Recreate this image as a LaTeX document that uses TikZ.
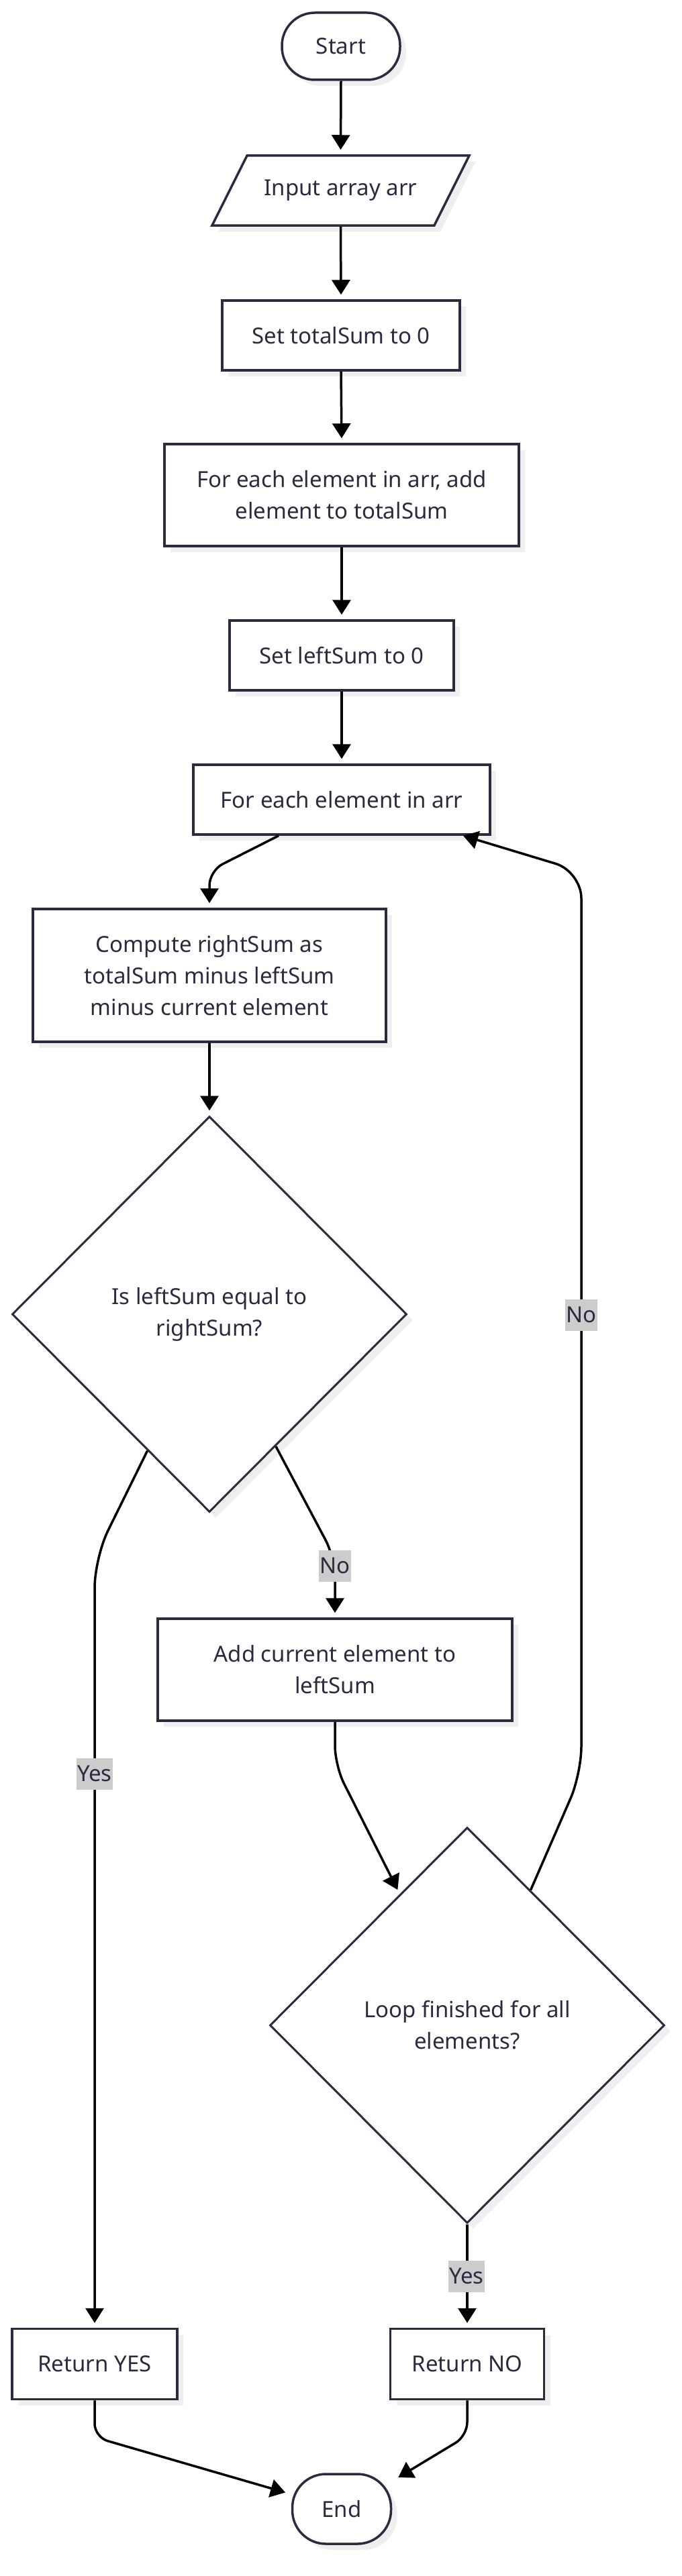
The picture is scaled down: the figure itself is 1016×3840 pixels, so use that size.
\documentclass[tikz,border=0pt]{standalone}
\usepackage{fontspec}
\setmainfont{Noto Sans}
\usetikzlibrary{arrows.meta,shapes.geometric,shadows,calc}
\definecolor{nodeline}{HTML}{2B2B40}
\definecolor{txt}{HTML}{2B2B40}
\definecolor{lblbg}{HTML}{CCCCCC}
\definecolor{shadowc}{HTML}{EFEFEF}
\begin{document}
\begin{tikzpicture}[x=1pt,y=-1pt,
  every node/.style={font=\fontsize{33}{47}\selectfont, text=txt},
  shad/.style={drop shadow={shadow xshift=9pt, shadow yshift=-9pt, fill=shadowc, opacity=1}},
  box/.style={draw=nodeline, line width=3.5pt, fill=white, rectangle, align=center, inner sep=0pt, shad},
  term/.style={box, rounded corners=49pt},
  decision/.style={draw=nodeline, line width=3pt, fill=white, diamond, align=center, inner sep=0pt, minimum width=588pt, minimum height=590pt, shad},
  lbl/.style={fill=lblbg, inner xsep=1.5pt, inner ysep=0pt, minimum height=47pt},
  arr/.style={draw=black, line width=3.5pt, -{Triangle[length=22pt,width=27pt]}, shorten >=7pt},
]
\fill[white] (0,0) rectangle (1016,3840);
\useasboundingbox (0,0) rectangle (1016,3840);

% nodes
\node[term, minimum width=176pt, minimum height=100pt] (start) at (508,69) {Start};

\fill[shadowc] (516.5,293) ++(-139.5,-52) -- ++(331,0) -- ++(-52,104) -- ++(-331,0) -- cycle;
\draw[draw=nodeline, line width=3.5pt, fill=white] (507.5,284) ++(-139.5,-52) -- ++(331,0) -- ++(-52,104) -- ++(-331,0) -- cycle;
\node[minimum width=331pt, minimum height=104pt, inner sep=0pt, outer sep=1.75pt] (input) at (507.5,284) {Input array arr};

\node[box, minimum width=354pt, minimum height=104pt] (totalsum) at (508,500) {Set totalSum to 0};
\node[box, minimum width=528pt, minimum height=152pt] (foreachadd) at (509,738) {For each element in arr, add\\element to totalSum};
\node[box, minimum width=334pt, minimum height=104pt] (leftsum) at (509,977) {Set leftSum to 0};
\node[box, minimum width=442pt, minimum height=104pt] (foreach) at (509,1192) {For each element in arr};
\node[box, minimum width=526pt, minimum height=198pt] (compute) at (312,1454) {Compute rightSum as\\totalSum minus leftSum\\minus current element};
\node[decision] (dec1) at (312,1959) {Is leftSum equal to\\rightSum?};
\node[box, minimum width=528pt, minimum height=152pt] (addcur) at (499,2489) {Add current element to\\leftSum};
\node[decision] (dec2) at (696,3019) {Loop finished for all\\elements?};
\node[box, minimum width=246pt, minimum height=105pt] (retyes) at (141,3524) {Return YES};
\node[box, minimum width=229pt, minimum height=105pt] (retno) at (696,3524) {Return NO};
\node[term, minimum width=147pt, minimum height=104pt, rounded corners=50pt] (end) at (509,3740) {End};

% edges
\draw[arr] (start.south) -- (input.north);
\draw[arr] (input.south) -- (totalsum.north);
\draw[arr] (totalsum.south) -- (foreachadd.north);
\draw[arr] (foreachadd.south) -- (leftsum.north);
\draw[arr] (leftsum.south) -- (foreach.north);
\draw[arr, rounded corners=22pt] ($(foreach.south)+(-94,0)$) -- (312,1298) -- (compute.north);
\draw[arr] (compute.south) -- (dec1.north);
\draw[arr, rounded corners=30pt] ($(dec1.south)!0.335!(dec1.east)$) -- (499,2322) -- (addcur.north);
\draw[arr, rounded corners=45pt] ($(dec1.south)!0.313!(dec1.west)$) -- (141,2322) -- (retyes.north);
\draw[arr, rounded corners=30pt] (addcur.south) -- (499,2632) -- ($(dec2.north)!0.34!(dec2.west)$);
\draw[arr, rounded corners=40pt, shorten >=0pt] ($(dec2.north)!0.32!(dec2.east)$) -- (866,2644) -- (866,1299) -- ($(foreach.south)+(181,0)$);
\draw[arr] (dec2.south) -- (retno.north);
\draw[arr, rounded corners=20pt, shorten >=9pt] (retyes.south) -- (141,3633) -- ($(end.west)+(0,-22)$);
\draw[arr, rounded corners=20pt, shorten >=0pt] (retno.south) -- (696,3631) -- ($(end.east)+(9,-47)$);

% edge labels
\node[lbl] (lno1) at (499,2334) {No};
\node[lbl] (lyes1) at (141,2644) {Yes};
\node[lbl] (lno2) at (866,1960) {No};
\node[lbl] (lyes2) at (695,3393) {Yes};
\end{tikzpicture}
\end{document}
